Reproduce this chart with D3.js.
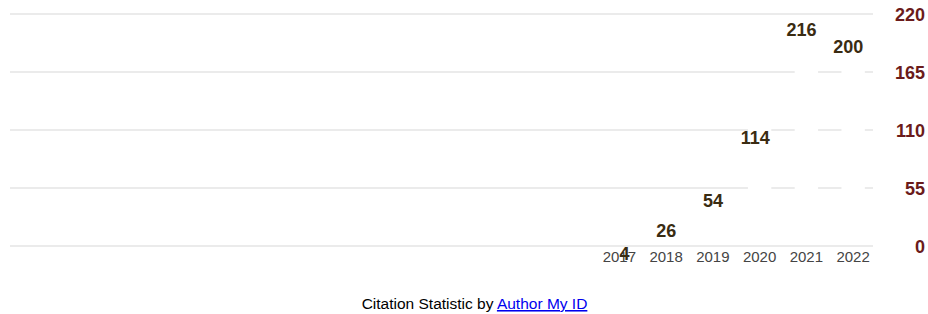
<!DOCTYPE html>
<meta charset="utf-8">
<script src="https://d3js.org/d3.v7.min.js"></script>
<style>
  body { margin: 0; background: #fff; }
  svg { display: block; font-family: Arial, "Liberation Sans", sans-serif; }
</style>
<svg id="chart" width="928" height="314"></svg>
<script>

// data
var years = ["2017", "2018", "2019", "2020", "2021", "2022"];
var citations = [4, 26, 54, 114, 216, 200];
var yTicks = [0, 55, 110, 165, 220];

var svg = d3.select("#chart");

// scales
var x = d3.scaleBand()
    .domain(years)
    .range([596, 876.5])
    .paddingInner(0.5)
    .paddingOuter(0.25);

var y = d3.scaleLinear()
    .domain([0, 220])
    .range([246, 14]);

// gridlines
svg.append("g")
  .selectAll("line")
  .data(yTicks)
  .enter()
  .append("line")
    .attr("x1", 10)
    .attr("x2", 873)
    .attr("y1", function(d){ return y(d) })
    .attr("y2", function(d){ return y(d) })
    .attr("stroke", "#ebebeb")
    .attr("stroke-width", 2);

// white bars that cut through the gridlines
svg.append("g")
  .selectAll("rect")
  .data(citations)
  .enter()
  .append("rect")
    .attr("x", function(d, i){ return x(years[i]) })
    .attr("width", x.bandwidth())
    .attr("y", function(d){ return y(d) })
    .attr("height", function(d){ return Math.max(0, y(0) - 1 - y(d)) })
    .attr("fill", "#ffffff");

// right axis labels
var yAxis = d3.axisRight(y).tickValues(yTicks).tickSize(0).tickPadding(0);
var ya = svg.append("g")
    .attr("transform", "translate(925,0)")
    .call(yAxis);
ya.select(".domain").remove();
ya.selectAll("text")
    .attr("text-anchor", "end")
    .attr("x", 0)
    .attr("dy", "0.36em")
    .style("font-family", "Arial, 'Liberation Sans', sans-serif")
    .style("font-size", "18px")
    .style("font-weight", "bold")
    .style("fill", "#6b1b1b");

// year labels
var xAxis = d3.axisBottom(x).tickSize(0).tickPadding(0);
var xa = svg.append("g")
    .attr("transform", "translate(0,262)")
    .call(xAxis);
xa.select(".domain").remove();
xa.selectAll("text")
    .attr("y", 0)
    .attr("dy", 0)
    .style("font-family", "Arial, 'Liberation Sans', sans-serif")
    .style("font-size", "15px")
    .style("fill", "#444444");

// value labels
svg.append("g")
  .selectAll("text")
  .data(citations)
  .enter()
  .append("text")
    .attr("x", function(d, i){ return x(years[i]) + x.bandwidth() - 1.5 })
    .attr("y", function(d){ return y(d) + 18 })
    .attr("text-anchor", "end")
    .style("font-size", "18px")
    .style("font-weight", "bold")
    .style("fill", "#3a2c12")
    .text(function(d){ return d });

// footer
var foot = svg.append("text")
    .attr("x", 474.5)
    .attr("y", 309)
    .attr("text-anchor", "middle")
    .style("font-size", "15.5px")
    .style("fill", "#000");
foot.append("tspan").text("Citation Statistic by ");
foot.append("a")
    .attr("href", "#")
  .append("tspan")
    .style("fill", "#0000ee")
    .style("text-decoration", "underline")
    .text("Author My ID");

</script>
